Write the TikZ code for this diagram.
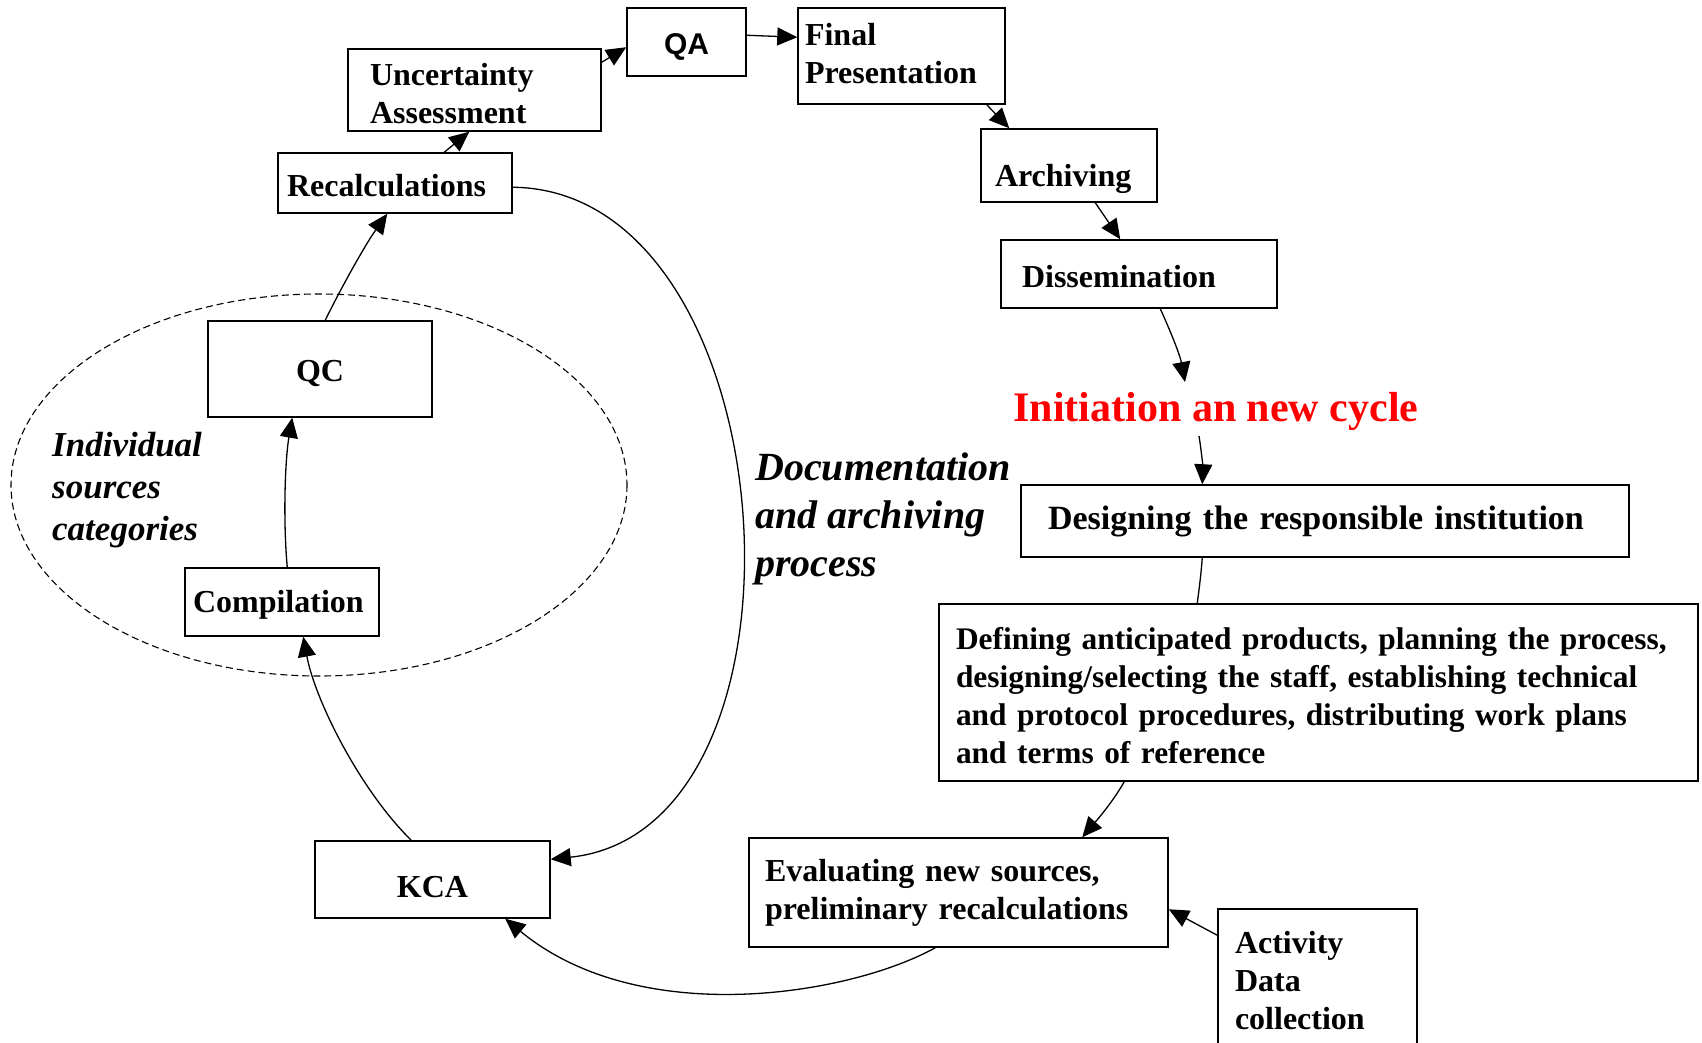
\documentclass[tikz,border=0pt]{standalone}
\usepackage{fontspec}
\setmainfont{Liberation Serif}
\newfontfamily\qafont{Liberation Sans}
\usetikzlibrary{arrows.meta,calc}
\newcommand{\dnshift}[1]{\rule{0pt}{\dimexpr 0.69em+2\dimexpr #1pt\relax\relax}}
\newcommand{\upshift}[1]{\rule[-2\dimexpr #1pt\relax]{0pt}{2\dimexpr #1pt\relax}}
\begin{document}
\begin{tikzpicture}[x=1pt,y=-1pt,
  box/.style={draw,line width=1.5pt,rectangle,inner ysep=0pt,align=left,
    font=\fontsize{32}{38}\selectfont\bfseries},
  cbox/.style={box,align=center,inner sep=0pt},
  conn/.style={line width=1.3pt,-{Triangle[length=20pt,width=18pt]}},
  plain/.style={line width=1.3pt},
  note/.style={font=\fontsize{40}{48}\selectfont\bfseries\itshape,align=left,inner sep=0pt}]
\useasboundingbox (0,0) rectangle (1702,1043);
\clip (0,0) rectangle (1702,1043);

% dashed ellipse
\draw[dashed,dash pattern=on 7pt off 4pt,line width=1.1pt] (319,485) ellipse [x radius=308,y radius=191];

% nodes
\node[box,text width=209pt,inner xsep=22pt,minimum height=82pt] (unc) at (474.5,90) {\dnshift{4}Uncertainty\\Assessment};
\node[cbox,minimum width=119pt,minimum height=68pt,font=\fontsize{30}{36}\selectfont\qafont\bfseries] (qa) at (686.5,42) {\dnshift{5}QA};
\node[box,text width=193pt,inner xsep=7pt,minimum height=96pt] (fin) at (901.5,56) {Final\\Presentation\upshift{3}};
\node[box,text width=148pt,inner xsep=14pt,minimum height=73pt] (arch) at (1069,165.5) {\dnshift{13}Archiving};
\node[box,text width=234pt,inner xsep=21pt,minimum height=68pt] (diss) at (1139,274) {\dnshift{3}Dissemination};
\node[anchor=base,inner sep=0pt,text=red,font=\fontsize{42}{50}\selectfont\bfseries] (init) at (1216,421) {Initiation an new cycle};
\node[box,text width=554pt,inner xsep=27pt,minimum height=72pt,font=\fontsize{34}{40}\selectfont\bfseries] (des) at (1325,521) {Designing the responsible institution};
\node[box,text width=725pt,inner xsep=17pt,minimum height=177pt,font=\fontsize{31.4}{38}\selectfont\bfseries] (def) at (1318.5,692.5) {\dnshift{3}Defining anticipated products, planning the process,\\designing/selecting the staff, establishing technical\\and protocol procedures, distributing work plans\\and terms of reference};
\node[box,text width=387pt,inner xsep=16pt,minimum height=109pt] (eva) at (958.5,892.5) {Evaluating new sources,\\preliminary recalculations};
\node[box,text width=165pt,inner xsep=17pt,minimum height=140pt] (act) at (1317.5,979) {\dnshift{2}Activity\\Data\\collection};
\node[cbox,minimum width=235pt,minimum height=77pt] (kca) at (432.5,879.5) {\dnshift{7}KCA};
\node[box,text width=178pt,inner xsep=8pt,minimum height=68pt] (comp) at (282,602) {\dnshift{3}Compilation};
\node[cbox,minimum width=224pt,minimum height=96pt] (qc) at (320,369) {\dnshift{4}QC};
\node[box,text width=216pt,inner xsep=9pt,minimum height=60pt] (rec) at (395,183) {\dnshift{3}Recalculations};

\node[note,font=\fontsize{35}{42}\selectfont\bfseries\itshape,anchor=west] (ind) at (52,490) {Individual\\sources\\categories};
\node[note,anchor=west] (doc) at (755,519) {Documentation\\and archiving\\process};

% free ends near the red text
\coordinate (initin) at (1185,382);
\coordinate (initout) at (1199,436);

% connectors
\draw[conn] ([xshift=167pt]rec.north west) -- ([xshift=122pt]unc.south west);
\draw[conn] ([yshift=-14pt]unc.north east) -- ([yshift=-40pt]qa.north west);
\draw[conn] ([yshift=-28pt]qa.north east) -- ([yshift=-30pt]fin.north west);
\draw[conn] ([xshift=-19pt]fin.south east) -- ([xshift=29pt]arch.north west);
\draw[conn] ([xshift=115pt]arch.south west) -- ([xshift=120pt]diss.north west);
\draw[conn] ([xshift=160pt]diss.south west) .. controls (1170,330) and (1180,355) .. (initin);
\draw[conn] (initout) .. controls (1202,455) and (1203,470) .. ([xshift=182pt]des.north west);
\draw[plain] ([xshift=182pt]des.south west) .. controls (1201,575) and (1199,590) .. ([xshift=259pt]def.north west);
\draw[conn] ([xshift=186pt]def.south west) .. controls (1112,803) and (1097,820) .. ([xshift=334pt]eva.north west);
\draw[conn] ([yshift=-27pt]act.north west) -- ([yshift=-72pt]eva.north east);
\draw[conn] ([xshift=187pt]eva.south west) .. controls (850,995) and (640,1030) .. ([xshift=191pt]kca.south west);
\draw[conn] ([xshift=97pt]kca.north west) .. controls (360,790) and (315,700) .. ([xshift=119pt]comp.south west);
\draw[conn] ([xshift=103pt]comp.north west) .. controls (283,520) and (285,460) .. ([xshift=85pt]qc.south west);
\draw[conn] ([xshift=118pt]qc.north west) .. controls (340,290) and (365,245) .. ([xshift=110pt]rec.south west);
\draw[conn] ([yshift=-35pt]rec.north east) .. controls (790,190) and (830,830) .. ([yshift=-19pt]kca.north east);
\end{tikzpicture}
\end{document}
